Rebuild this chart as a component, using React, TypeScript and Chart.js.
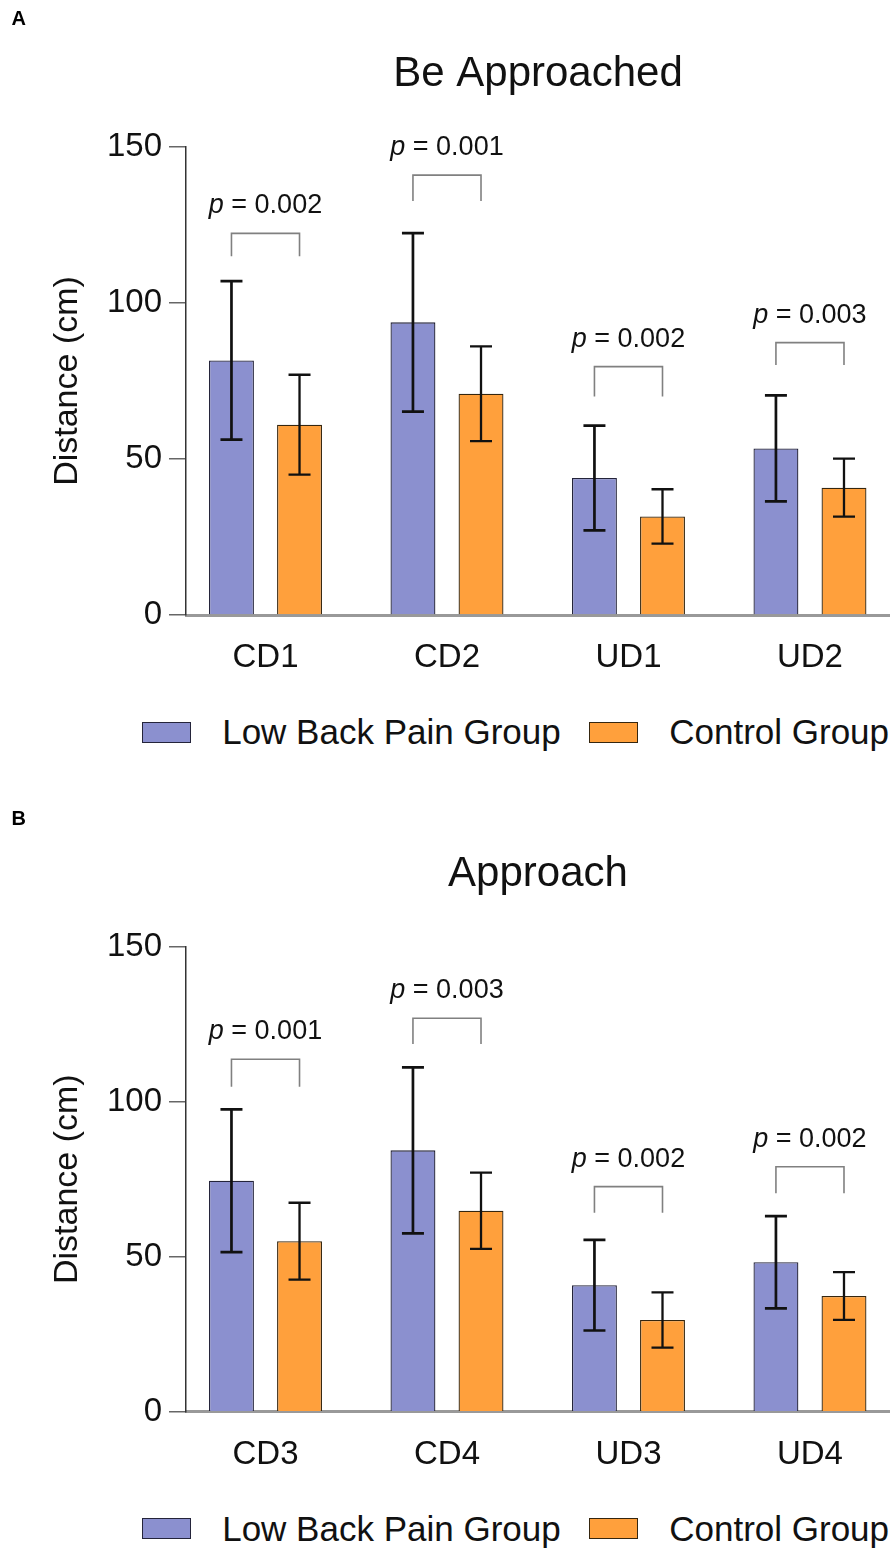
import React, { useEffect, useRef } from "react";
import { Chart, registerables } from "chart.js";

Chart.register(...registerables);

// ---------- Data ----------
const seriesNames = ["Low Back Pain Group", "Control Group"];
const yTicks = [0, 50, 100, 150];

// Panel A: Be Approached
const categoriesA = ["CD1", "CD2", "UD1", "UD2"];
const lbpMeanA = [81.6, 93.8, 43.9, 53.4];
const lbpSdA = [25.4, 28.6, 16.8, 17.0];
const ctrlMeanA = [61.0, 70.9, 31.6, 40.8];
const ctrlSdA = [16.0, 15.2, 8.7, 9.3];
const pLabelsA = ["0.002", "0.001", "0.002", "0.003"];
const bracketTopA = [122.3, 141.0, 79.6, 87.3];
const bracketLegA = [115.0, 132.7, 70.0, 80.1];

// Panel B: Approach
const categoriesB = ["CD3", "CD4", "UD3", "UD4"];
const lbpMeanB = [74.5, 84.3, 40.8, 48.2];
const lbpSdB = [23.0, 26.8, 14.6, 14.9];
const ctrlMeanB = [55.0, 64.8, 29.6, 37.3];
const ctrlSdB = [12.4, 12.3, 8.9, 7.7];
const pLabelsB = ["0.001", "0.003", "0.002", "0.002"];
const bracketTopB = [113.7, 126.9, 72.6, 79.0];
const bracketLegB = [104.8, 118.6, 64.2, 70.5];

// ---------- Style ----------
const FONT = "'Liberation Sans', Arial, Helvetica, sans-serif";
const BLUE = "#8b90cf";
const ORANGE = "#ffa03c";
const TEXT = "#111";

Chart.defaults.font.family = FONT;

function drawPText(ctx: CanvasRenderingContext2D, cx: number, y: number, value: string, size: number) {
  const italic = `italic ${size}px ${FONT}`;
  const normal = `${size}px ${FONT}`;
  ctx.font = italic;
  const wp = ctx.measureText("p").width;
  const rest = " = " + value;
  ctx.font = normal;
  const wr = ctx.measureText(rest).width;
  const start = cx - (wp + wr) / 2;
  ctx.textAlign = "left";
  ctx.textBaseline = "alphabetic";
  ctx.fillStyle = TEXT;
  ctx.font = italic;
  ctx.fillText("p", start, y);
  ctx.font = normal;
  ctx.fillText(rest, start + wp, y);
}

type PanelProps = {
  top: number;
  letter: string;
  title: string;
  categories: string[];
  lbpMean: number[];
  lbpSd: number[];
  ctrlMean: number[];
  ctrlSd: number[];
  pLabels: string[];
  bracketTop: number[];
  bracketLeg: number[];
  chartTop: number;
  chartBottom: number;
};

const CANVAS_W = 890;
const CANVAS_H = 700;

function Panel(props: PanelProps) {
  const ref = useRef<HTMLCanvasElement | null>(null);
  const { top, letter, title, categories, lbpMean, lbpSd, ctrlMean, ctrlSd, pLabels, bracketTop, bracketLeg, chartTop, chartBottom } = props;

  useEffect(() => {
    if (!ref.current) return;
    const errors = [lbpSd, ctrlSd];
    const annotPlugin = {
      id: "annot",
      afterDatasetsDraw(chart: any) {
        const ctx: CanvasRenderingContext2D = chart.ctx;
        const ys = chart.scales.y;
        ctx.save();
        // error bars
        chart.data.datasets.forEach((ds: any, d: number) => {
          const meta = chart.getDatasetMeta(d);
          meta.data.forEach((el: any, i: number) => {
            const m = ds.data[i].y;
            const sd = errors[d][i];
            const yT = ys.getPixelForValue(m + sd);
            const yB = ys.getPixelForValue(m - sd);
            ctx.strokeStyle = "#111";
            ctx.lineWidth = d === 0 ? 2.7 : 2.3;
            ctx.beginPath();
            ctx.moveTo(el.x, yT);
            ctx.lineTo(el.x, yB);
            ctx.moveTo(el.x - 11, yT);
            ctx.lineTo(el.x + 11, yT);
            ctx.moveTo(el.x - 11, yB);
            ctx.lineTo(el.x + 11, yB);
            ctx.stroke();
          });
        });
        // brackets + p values
        const m0 = chart.getDatasetMeta(0);
        const m1 = chart.getDatasetMeta(1);
        categories.forEach((_c, i) => {
          const xL = m0.data[i].x;
          const xR = m1.data[i].x;
          const yT = ys.getPixelForValue(bracketTop[i]);
          const yL = ys.getPixelForValue(bracketLeg[i]);
          ctx.strokeStyle = "#808080";
          ctx.lineWidth = 1.6;
          ctx.beginPath();
          ctx.moveTo(xL, yL);
          ctx.lineTo(xL, yT);
          ctx.lineTo(xR, yT);
          ctx.lineTo(xR, yL);
          ctx.stroke();
          drawPText(ctx, (xL + xR) / 2, yT - 20, pLabels[i], 27);
        });
        ctx.restore();
      },
    };

    const chart = new Chart(ref.current, {
      type: "bar",
      data: {
        datasets: [
          {
            label: seriesNames[0],
            data: lbpMean.map((v, i) => ({ x: i, y: v })),
            backgroundColor: BLUE,
            borderColor: "#24243a",
            borderWidth: 1.3,
            categoryPercentage: 0.75,
            barPercentage: 0.66,
          },
          {
            label: seriesNames[1],
            data: ctrlMean.map((v, i) => ({ x: i, y: v })),
            backgroundColor: ORANGE,
            borderColor: "#35260f",
            borderWidth: 1.3,
            categoryPercentage: 0.75,
            barPercentage: 0.66,
          },
        ],
      },
      options: {
        responsive: false,
        animation: false,
        devicePixelRatio: 1,
        layout: { padding: { left: 0, right: 0, top: 0, bottom: 0 } },
        plugins: {
          legend: { display: false },
          tooltip: { enabled: false },
          title: {
            display: true,
            text: title,
            fullSize: false,
            color: TEXT,
            font: { size: 42, weight: "normal" as any, family: FONT },
            padding: { top: 49, bottom: chartTop - 49 - 50.4 },
          },
        },
        scales: {
          x: {
            type: "linear",
            min: -0.438,
            max: 3.441,
            offset: false,
            afterBuildTicks: (s: any) => {
              s.ticks = categories.map((_c, i) => ({ value: i }));
            },
            afterFit: (s: any) => {
              s.height = CANVAS_H - chartBottom;
            },
            ticks: {
              callback: (v: any) => categories[v] ?? "",
              padding: 23,
              autoSkip: false,
              maxRotation: 0,
              color: TEXT,
              font: { size: 33, family: FONT },
            },
            grid: { display: false, drawTicks: false },
            border: { display: true, color: "#999", width: 3 },
          },
          y: {
            min: 0,
            max: 150,
            afterBuildTicks: (s: any) => {
              s.ticks = yTicks.map((v) => ({ value: v }));
            },
            afterFit: (s: any) => {
              s.width = 186;
            },
            ticks: {
              padding: 7,
              color: TEXT,
              font: { size: 33, family: FONT },
            },
            grid: {
              drawOnChartArea: false,
              drawTicks: true,
              tickLength: 17,
              color: "#666",
              lineWidth: 1.5,
            },
            border: { display: true, color: "#333", width: 1.5 },
            title: {
              display: true,
              text: "Distance (cm)",
              color: TEXT,
              font: { size: 34, family: FONT },
              padding: { top: 47, bottom: 0 },
            },
          },
        },
      } as any,
      plugins: [annotPlugin],
    });
    return () => chart.destroy();
  }, []);

  const legendTop = chartBottom + 117 - 20;
  return (
    <div style={{ position: "absolute", left: 0, top, width: CANVAS_W, height: 800 }}>
      <canvas ref={ref} width={CANVAS_W} height={CANVAS_H} style={{ display: "block", position: "absolute", left: 0, top: 0 }} />
      <div
        style={{
          position: "absolute",
          left: 11.5,
          top: 7.5,
          fontFamily: FONT,
          fontWeight: "bold",
          fontSize: 20,
          lineHeight: 1,
          color: "#000",
        }}
      >
        {letter}
      </div>
      <div
        style={{
          position: "absolute",
          left: 141.7,
          top: legendTop,
          height: 40,
          display: "flex",
          alignItems: "center",
          fontFamily: FONT,
          fontSize: 35,
          color: TEXT,
          whiteSpace: "nowrap",
        }}
      >
        <div style={{ width: 49.5, height: 21, boxSizing: "border-box", border: "1.5px solid #24243a", background: BLUE }} />
        <span style={{ marginLeft: 31, lineHeight: "40px" }}>{seriesNames[0]}</span>
        <div style={{ marginLeft: 28, width: 49.5, height: 21, boxSizing: "border-box", border: "1.5px solid #35260f", background: ORANGE }} />
        <span style={{ marginLeft: 31, lineHeight: "40px" }}>{seriesNames[1]}</span>
      </div>
    </div>
  );
}

export default function App() {
  return (
    <div style={{ position: "absolute", left: 0, top: 0, width: 890, height: 1554, overflow: "hidden", background: "#fff" }}>
      <Panel
        top={0}
        letter="A"
        title="Be Approached"
        categories={categoriesA}
        lbpMean={lbpMeanA}
        lbpSd={lbpSdA}
        ctrlMean={ctrlMeanA}
        ctrlSd={ctrlSdA}
        pLabels={pLabelsA}
        bracketTop={bracketTopA}
        bracketLeg={bracketLegA}
        chartTop={147}
        chartBottom={615}
      />
      <Panel
        top={800}
        letter="B"
        title="Approach"
        categories={categoriesB}
        lbpMean={lbpMeanB}
        lbpSd={lbpSdB}
        ctrlMean={ctrlMeanB}
        ctrlSd={ctrlSdB}
        pLabels={pLabelsB}
        bracketTop={bracketTopB}
        bracketLeg={bracketLegB}
        chartTop={146.7}
        chartBottom={611.7}
      />
    </div>
  );
}
